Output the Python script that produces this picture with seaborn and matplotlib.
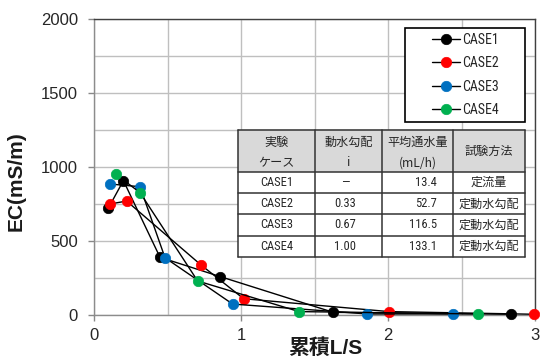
import matplotlib
matplotlib.use("Agg")
import matplotlib.pyplot as plt
from matplotlib import font_manager as fm
from matplotlib.patches import Rectangle
import seaborn as sns
import pandas as pd

# --- data -------------------------------------------------------------
cases = ["CASE1", "CASE2", "CASE3", "CASE4"]
case_colors = ["#000000", "#ff0000", "#0070c0", "#00b050"]

case1_ls = [0.097, 0.200, 0.449, 0.860, 1.628, 2.840]
case1_ec = [721, 908, 390, 259, 18, 5]
case2_ls = [0.109, 0.222, 0.728, 1.018, 2.007, 2.995]
case2_ec = [750, 770, 338, 110, 23, 5]
case3_ls = [0.109, 0.313, 0.483, 0.943, 1.860, 2.444]
case3_ec = [885, 867, 387, 74, 7, 7]
case4_ls = [0.150, 0.313, 0.705, 1.395, 2.610]
case4_ec = [950, 827, 230, 23, 7]

x_ticks = [0, 1, 2, 3]
y_ticks = [0, 500, 1000, 1500, 2000]

table_header_top = ["実験", "動水勾配", "平均通水量", "試験方法"]
table_header_bottom = ["ケース", "i", "(mL/h)", ""]
table_grad = ["—", "0.33", "0.67", "1.00"]
table_flow = ["13.4", "52.7", "116.5", "133.1"]
table_method = ["定流量", "定動水勾配", "定動水勾配", "定動水勾配"]

# --- style ------------------------------------------------------------
sns.set_theme(style="white")

# prefer a narrow sans face for the legend and table if one is installed
narrow = "Liberation Sans"
narrow_stretch = "normal"
_fonts = fm.fontManager.ttflist
for cand in ["Liberation Sans Narrow", "Arial Narrow", "Roboto Condensed",
             "Open Sans Condensed", "DejaVu Sans Condensed"]:
    if any(f.name == cand for f in _fonts):
        narrow = cand
        break
else:
    for f in _fonts:
        if f.stretch in ("condensed", "semi-condensed") and "Sans" in f.name \
                and "CJK" not in f.name and "Mono" not in f.name:
            narrow, narrow_stretch = f.name, f.stretch
            break

plt.rcParams["font.family"] = ["Liberation Sans", "Noto Sans CJK JP"]

W, H = 540, 357
fig = plt.figure(figsize=(W / 100, H / 100), dpi=100)
fig.patch.set_facecolor("white")
ax = fig.add_axes([94 / W, 1 - 315 / H, 441 / W, 296 / H])

frames = []
for case, xs, ys in zip(cases, [case1_ls, case2_ls, case3_ls, case4_ls],
                        [case1_ec, case2_ec, case3_ec, case4_ec]):
    frames.append(pd.DataFrame({"case": case, "ls": xs, "ec": ys}))
df = pd.concat(frames, ignore_index=True)

for case, color in zip(cases, case_colors):
    sub = df[df["case"] == case]
    sns.lineplot(data=sub, x="ls", y="ec", ax=ax, estimator=None, sort=False,
                 color="black", lw=1.0, marker="o", markersize=7.5,
                 markerfacecolor=color, markeredgecolor=color,
                 markeredgewidth=0.5, label=case, clip_on=False, zorder=3)

ax.set_xlim(0, 3)
ax.set_ylim(0, 2000)
ax.set_xticks(x_ticks)
ax.set_yticks(y_ticks)
ax.set_xticks([0.5, 1.5, 2.5], minor=True)
ax.set_yticks([250, 750, 1250, 1750], minor=True)
ax.grid(which="both", color="#bfbfbf", lw=1.0, zorder=0)
ax.set_axisbelow(True)

ax.tick_params(axis="both", which="major", length=4, width=1, color="#888888",
               labelsize=12, labelcolor="#262626")
ax.tick_params(axis="y", which="major", pad=7.5, left=True)
ax.tick_params(axis="x", which="major", pad=5, bottom=True)
ax.tick_params(which="minor", length=0)

for side in ["top", "right"]:
    ax.spines[side].set_color("#404040")
    ax.spines[side].set_linewidth(1.0)
for side in ["left", "bottom"]:
    ax.spines[side].set_color("#8c8c8c")
    ax.spines[side].set_linewidth(1.0)

ax.set_ylabel("EC(mS/m)", fontsize=15, fontweight="bold", color="#1a1a1a")
ax.yaxis.set_label_coords(-0.155, 0.453)
ax.set_xlabel("累積L/S", fontsize=15, fontweight="bold", color="#1a1a1a")
ax.xaxis.set_label_coords(0.524, -0.079)

# legend in a plain black box
ax.add_patch(Rectangle((0.705, 0.652), 0.272, 0.318, transform=ax.transAxes,
                       facecolor="white", edgecolor="black", lw=1.2, zorder=4))
leg = ax.legend(loc="center", bbox_to_anchor=(0.843, 0.811), frameon=False,
                prop={"family": [narrow], "stretch": narrow_stretch, "size": 10},
                handlelength=2.0, handletextpad=0.15, labelspacing=0.68,
                borderpad=0.2)
leg.set_zorder(5)
for t in leg.get_texts():
    t.set_color("#262626")

# --- condition table ----------------------------------------------------
x0, x1, y0, y1 = 234, 529, 126, 261
tax = fig.add_axes([x0 / W, 1 - y1 / H, (x1 - x0) / W, (y1 - y0) / H])
tax.set_xlim(x0, x1)
tax.set_ylim(y1, y0)
tax.axis("off")

col_edges = [238.3, 315.0, 381.7, 453.3, 525.0]
row_edges = [130.0, 171.7, 193.3, 214.3, 235.7, 257.3]
left, right = col_edges[0], col_edges[-1]
top, bottom = row_edges[0], row_edges[-1]

tax.add_patch(Rectangle((left, top), right - left, row_edges[1] - top,
                        facecolor="#d9d9d9", edgecolor="none"))
tax.add_patch(Rectangle((left, row_edges[1]), right - left, bottom - row_edges[1],
                        facecolor="white", edgecolor="none"))
for xe in col_edges:
    tax.plot([xe, xe], [top, bottom], color="#333333", lw=1.1)
for ye in row_edges:
    tax.plot([left, right], [ye, ye], color="#333333", lw=1.1)

tfont = {"family": [narrow, "Noto Sans CJK JP"], "stretch": narrow_stretch,
         "size": 9, "color": "#262626"}
jfont = {"family": ["Noto Sans CJK JP"], "size": 8.7, "color": "#262626"}
centers = [(col_edges[i] + col_edges[i + 1]) / 2 for i in range(4)]
for c, t1, t2 in zip(centers, table_header_top, table_header_bottom):
    if t2:
        tax.text(c, 142.7, t1, ha="center", va="center", **jfont)
        tax.text(c, 162.7, t2, ha="center", va="center", **jfont)
    else:
        tax.text(c, 151.0, t1, ha="center", va="center", **jfont)

for i in range(4):
    yc = (row_edges[i + 1] + row_edges[i + 2]) / 2
    tax.text(centers[0], yc, cases[i], ha="center", va="center", **tfont)
    tax.text(centers[1] - 3, yc, table_grad[i], ha="center", va="center", **tfont)
    tax.text(437, yc, table_flow[i], ha="right", va="center", **tfont)
    tax.text(centers[3], yc, table_method[i], ha="center", va="center", **jfont)

fig.savefig("out.png", dpi=100, facecolor="white")
